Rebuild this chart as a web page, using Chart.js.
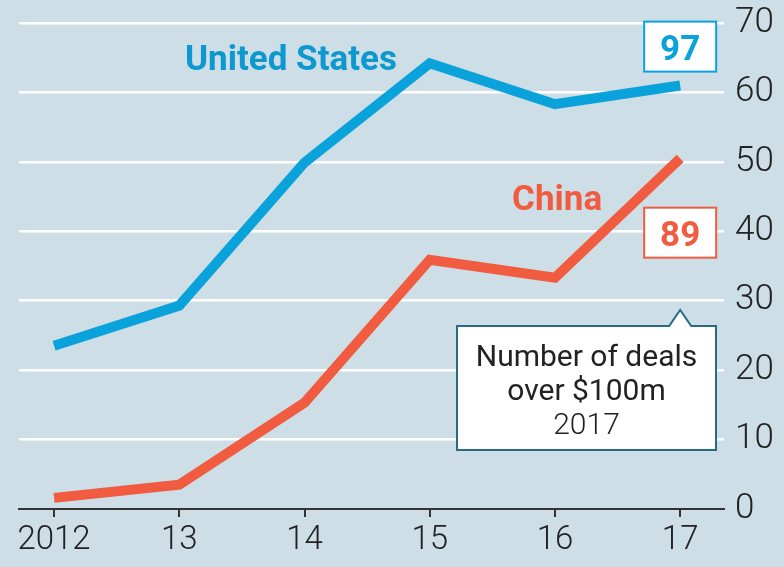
<!DOCTYPE html>
<html lang="en">
<head>
    <title>Number of deals over $100m</title>
    <script src="https://cdn.jsdelivr.net/npm/chart.js"></script>
    <style>
        html, body { margin: 0; padding: 0; background: #cddee7; }
        #wrap { width: 784px; height: 567px; }
    </style>
</head>
<body>
    <div id="wrap"><canvas id="dealsChart" width="784" height="567"></canvas></div>

    <script>
        // Data
        const years = [2012, 2013, 2014, 2015, 2016, 2017];
        const yearLabels = ['2012', '13', '14', '15', '16', '17'];
        const usDeals = [23.5, 29.3, 49.9, 64.2, 58.3, 61.0];
        const chinaDeals = [1.6, 3.5, 15.3, 35.9, 33.3, 50.5];
        const yTicks = [0, 10, 20, 30, 40, 50, 60, 70];

        const BLUE = '#0aa2da';
        const RED = '#f15b3f';
        const FONT = 'Roboto, "DejaVu Sans", sans-serif';

        const toPoints = (arr) => years.map((x, i) => ({ x: x, y: arr[i] }));

        // Labels, boxes and callout drawn over the plot
        const annotations = {
            id: 'annotations',
            afterDatasetsDraw(chart) {
                const ctx = chart.ctx;
                const x = chart.scales.x, y = chart.scales.y;
                ctx.save();
                ctx.textBaseline = 'alphabetic';

                // series names
                ctx.font = 'bold 35px ' + FONT;
                ctx.fillStyle = '#0e98d0';
                ctx.textAlign = 'left';
                ctx.fillText('United States', 185, 70);
                ctx.fillStyle = RED;
                ctx.fillText('China', 512, 210);

                // value boxes
                function valueBox(cx, cy, text, color) {
                    ctx.fillStyle = '#ffffff';
                    ctx.fillRect(cx - 36, cy - 25, 72, 50);
                    ctx.strokeStyle = color;
                    ctx.lineWidth = 2;
                    ctx.strokeRect(cx - 36, cy - 25, 72, 50);
                    ctx.fillStyle = color;
                    ctx.font = 'bold 35px ' + FONT;
                    ctx.textAlign = 'center';
                    ctx.fillText(text, cx, cy + 13);
                }
                const px17 = x.getPixelForValue(2017);
                valueBox(px17, y.getPixelForValue(66.6), '97', BLUE);
                valueBox(px17, y.getPixelForValue(39.8), '89', RED);

                // callout with pointer
                const left = 457, right = 716, top = 326, bottom = 450;
                ctx.beginPath();
                ctx.moveTo(left, top);
                ctx.lineTo(px17 - 11, top);
                ctx.lineTo(px17, top - 16);
                ctx.lineTo(px17 + 11, top);
                ctx.lineTo(right, top);
                ctx.lineTo(right, bottom);
                ctx.lineTo(left, bottom);
                ctx.closePath();
                ctx.fillStyle = '#ffffff';
                ctx.fill();
                ctx.strokeStyle = '#266a86';
                ctx.lineWidth = 2;
                ctx.stroke();

                ctx.fillStyle = '#222222';
                ctx.textAlign = 'center';
                const cx = (left + right) / 2;
                ctx.font = '30px ' + FONT;
                ctx.fillText('Number of deals', cx, 366);
                ctx.fillText('over $100m', cx, 400);
                ctx.font = '300 30px ' + FONT;
                ctx.fillText('2017', cx, 434);
                ctx.restore();
            }
        };

        const dealsCtx = document.getElementById('dealsChart').getContext('2d');

        new Chart(dealsCtx, {
            type: 'line',
            data: {
                datasets: [
                    {
                        label: 'United States',
                        data: toPoints(usDeals),
                        borderColor: BLUE,
                        borderWidth: 10,
                        pointRadius: 0,
                        borderJoinStyle: 'miter',
                        tension: 0
                    },
                    {
                        label: 'China',
                        data: toPoints(chinaDeals),
                        borderColor: RED,
                        borderWidth: 10,
                        pointRadius: 0,
                        borderJoinStyle: 'miter',
                        tension: 0
                    }
                ]
            },
            options: {
                responsive: false,
                animation: false,
                events: [],
                layout: { padding: { left: 19, top: 23, right: 0, bottom: 0 } },
                plugins: {
                    legend: { display: false },
                    tooltip: { enabled: false }
                },
                scales: {
                    x: {
                        type: 'linear',
                        min: 2011.72,
                        max: 2017.35,
                        afterBuildTicks: (scale) => {
                            scale.ticks = years.map(v => ({ value: v }));
                        },
                        afterFit: (scale) => {
                            scale.height = 58;
                            scale.paddingLeft = 0;
                            scale.paddingRight = 0;
                        },
                        border: { display: true, color: '#333333', width: 2 },
                        grid: {
                            drawOnChartArea: false,
                            drawTicks: true,
                            tickLength: 8,
                            color: '#333333',
                            lineWidth: 2
                        },
                        ticks: {
                            color: '#222222',
                            font: { family: FONT, size: 33, weight: '300' },
                            padding: 4,
                            maxRotation: 0,
                            autoSkip: false,
                            callback: (value) => yearLabels[years.indexOf(value)]
                        }
                    },
                    y: {
                        position: 'right',
                        min: 0,
                        max: 70,
                        afterBuildTicks: (scale) => {
                            scale.ticks = yTicks.map(v => ({ value: v }));
                        },
                        afterFit: (scale) => {
                            scale.width = 60;
                            scale.paddingTop = 0;
                            scale.paddingBottom = 0;
                        },
                        border: { display: false },
                        grid: {
                            drawTicks: false,
                            lineWidth: 2.5,
                            color: (c) => c.tick && c.tick.value === 0 ? 'rgba(0,0,0,0)' : '#ffffff'
                        },
                        ticks: {
                            color: '#222222',
                            font: { family: FONT, size: 35, weight: '300' },
                            padding: 11
                        }
                    }
                }
            },
            plugins: [annotations]
        });
    </script>
</body>
</html>
